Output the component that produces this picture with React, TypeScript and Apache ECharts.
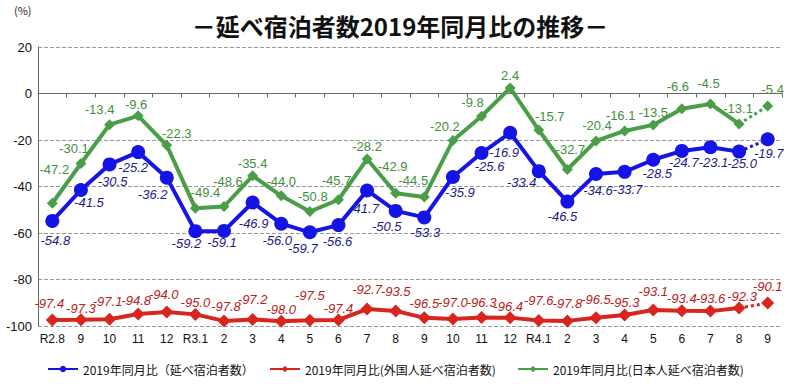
import React, { useEffect, useRef } from "react";
import * as echarts from "echarts";

const categories = ["R2.8", "9", "10", "11", "12", "R3.1", "2", "3", "4", "5", "6", "7", "8", "9", "10", "11", "12", "R4.1", "2", "3", "4", "5", "6", "7", "8", "9"];
const totalValues = [-54.8, -41.5, -30.5, -25.2, -36.2, -59.2, -59.1, -46.9, -56.0, -59.7, -56.6, -41.7, -50.5, -53.3, -35.9, -25.6, -16.9, -33.4, -46.5, -34.6, -33.7, -28.5, -24.7, -23.1, -25.0, -19.7];
const foreignValues = [-97.4, -97.3, -97.1, -94.8, -94.0, -95.0, -97.8, -97.2, -98.0, -97.5, -97.4, -92.7, -93.5, -96.5, -97.0, -96.3, -96.4, -97.6, -97.8, -96.5, -95.3, -93.1, -93.4, -93.6, -92.3, -90.1];
const japaneseValues = [-47.2, -30.1, -13.4, -9.6, -22.3, -49.4, -48.6, -35.4, -44.0, -50.8, -45.7, -28.2, -42.9, -44.5, -20.2, -9.8, 2.4, -15.7, -32.7, -20.4, -16.1, -13.5, -6.6, -4.5, -13.1, -5.4];
const seriesNames = ["2019年同月比（延べ宿泊者数）", "2019年同月比(外国人延べ宿泊者数)", "2019年同月比(日本人延べ宿泊者数)"];
const titleText = "－延べ宿泊者数2019年同月比の推移－";

// label placement (style only): [dx, dy] of each value label's centre from its marker
const totalLabelOffsets = [[3, 20], [8, 13], [3, 17], [-5, 15], [-14, 17], [-9, 12], [-2, 12], [1, 21], [-4, 17], [-7, 16], [-1, 16], [-3, 18], [-9, 16], [1, 15], [7, 16], [8, 13], [-6, 20], [-17, 11], [-5, 15], [2, 17], [3, 18], [4, 14], [2, 12], [3, 15], [3, 12], [1, 14]];
const foreignLabelOffsets = [[-3, -16], [0, -11], [-2, -18], [-2, -13], [-3, -18], [0, -12], [2, -14], [0, -20], [0, -12], [0, -25], [0, -11], [0, -20], [0, -19], [0, -14], [0, -17], [0, -15], [-2, -11], [0, -20], [0, -17], [0, -18], [0, -13], [0, -18], [0, -12], [0, -13], [3, -12], [0, -16]];
const japaneseLabelOffsets = [[2, -34], [-7, -15], [-10, -15], [-2, -11], [10, -12], [10, -16], [4, -25], [0, -12], [0, -14], [3, -15], [-2, -19], [0, -13], [-3, -27], [-11, -16], [-8, -14], [-9, -14], [0, -12], [11, -14], [3, -20], [1, -15], [-4, -15], [0, -12], [-4, -22], [-2, -20], [-1, -15], [5, -17]];

export default function App() {
  const ref = useRef<HTMLDivElement>(null);
  useEffect(() => {
    if (!ref.current) return;
    const chart = echarts.init(ref.current, null, { renderer: "svg" });
    const numFont = "Liberation Sans";
    const fmt = (p: any) => (p.value == null ? "" : Number(p.value).toFixed(1));
    const blue = "#1414e6";
    const red = "#d8251e";
    const green = "#4a9e48";
    const blueLabel = { show: true, position: "inside", color: "#1c1c86", fontStyle: "italic", fontFamily: numFont, fontSize: 13, formatter: fmt };
    const redLabel = { show: true, position: "inside", color: "#b82020", fontStyle: "italic", fontFamily: numFont, fontSize: 13, formatter: fmt };
    const greenLabel = { show: true, position: "inside", color: "#3f8f3d", fontFamily: numFont, fontSize: 13, formatter: fmt };

    const last = categories.length - 1;
    const solidItems = (vals: number[], offs: number[][]) =>
      vals.map((v, i) => (i < last ? { value: v, label: { offset: offs[i] } } : null));
    const dottedItems = (vals: number[], offs: number[][]) =>
      vals.map((v, i) =>
        i === last ? { value: v, label: { offset: offs[i] } } : i === last - 1 ? { value: v, symbol: "none", label: { show: false } } : null
      );

    const mk = (name: string, data: any[], color: string, symbol: string, size: number, label: any, dotted: boolean) => ({
      name,
      type: "line",
      data,
      symbol,
      symbolSize: size,
      showSymbol: true,
      connectNulls: false,
      lineStyle: { color, width: dotted ? 3 : 4, type: dotted ? "dotted" : "solid" },
      itemStyle: { color },
      label,
      z: dotted ? 1 : 2,
    });

    const legendText = { fontFamily: "Noto Sans CJK JP", fontSize: 12, color: "#111" };
    const legendBase = { top: 358, itemWidth: 30, itemHeight: 8, itemGap: 4, textStyle: legendText };

    chart.setOption({
      animation: false,
      title: {
        text: titleText,
        left: "center",
        top: 8,
        textStyle: { fontFamily: "Noto Sans CJK JP", fontSize: 24, fontWeight: "bold", color: "#111" },
      },
      graphic: [
        { type: "text", left: 14, top: 4, style: { text: "(%)", fontFamily: "Noto Sans CJK JP", fontSize: 11, fill: "#222" } },
      ],
      legend: [
        { ...legendBase, left: 42, data: [seriesNames[0]] },
        { ...legendBase, left: 264, data: [seriesNames[1]] },
        { ...legendBase, left: 512, data: [seriesNames[2]] },
      ],
      grid: { left: 38, right: 18, top: 47, bottom: 63, containLabel: false },
      xAxis: {
        type: "category",
        data: categories,
        boundaryGap: true,
        axisLine: { lineStyle: { color: "#666" } },
        axisTick: { show: true, alignWithLabel: false, length: 4, lineStyle: { color: "#666" } },
        axisLabel: { color: "#111", fontFamily: numFont, fontSize: 12, margin: 7, interval: 0 },
      },
      yAxis: {
        type: "value",
        min: -100,
        max: 20,
        interval: 20,
        axisLine: { show: true, lineStyle: { color: "#666" } },
        axisTick: { show: false },
        axisLabel: { color: "#111", fontFamily: numFont, fontSize: 13, margin: 6 },
        splitLine: { lineStyle: { color: "#999", type: "dashed" } },
      },
      series: [
        mk(seriesNames[0], solidItems(totalValues, totalLabelOffsets), blue, "circle", 14, blueLabel, false),
        mk(seriesNames[1], solidItems(foreignValues, foreignLabelOffsets), red, "diamond", 13, redLabel, false),
        mk(seriesNames[2], solidItems(japaneseValues, japaneseLabelOffsets), green, "diamond", 11, greenLabel, false),
        mk(seriesNames[0], dottedItems(totalValues, totalLabelOffsets), blue, "circle", 14, blueLabel, true),
        mk(seriesNames[1], dottedItems(foreignValues, foreignLabelOffsets), red, "diamond", 13, redLabel, true),
        mk(seriesNames[2], dottedItems(japaneseValues, japaneseLabelOffsets), green, "diamond", 11, greenLabel, true),
      ],
    });
    return () => chart.dispose();
  }, []);
  return <div ref={ref} style={{ position: "absolute", left: 0, top: 0, width: 800, height: 389 }} />;
}
